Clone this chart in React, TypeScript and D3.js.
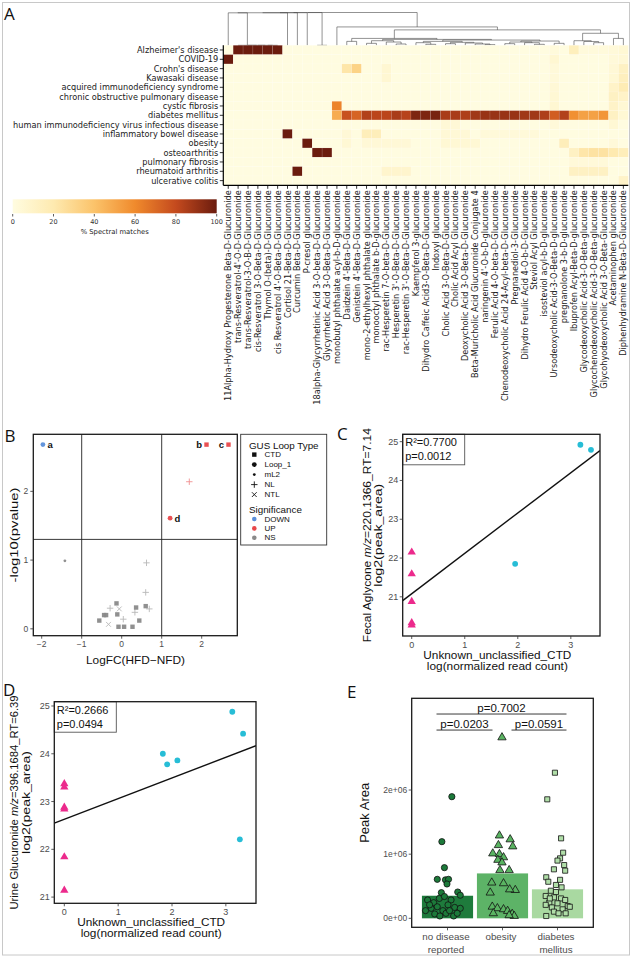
import React from "react";
import * as d3 from "d3";

const GG = "'Liberation Sans', Arial, sans-serif";
const DV = "'DejaVu Sans', sans-serif";
const TAG = "'Open Sans', sans-serif";

// ---------- A: spectral-match heatmap ----------
const diseases = [
  "Alzheimer's disease",
  "COVID-19",
  "Crohn's disease",
  "Kawasaki disease",
  "acquired immunodeficiency syndrome",
  "chronic obstructive pulmonary disease",
  "cystic fibrosis",
  "diabetes mellitus",
  "human immunodeficiency virus infectious disease",
  "inflammatory bowel disease",
  "obesity",
  "osteoarthritis",
  "pulmonary fibrosis",
  "rheumatoid arthritis",
  "ulcerative colitis",
];

const compounds = [
  "11Alpha-Hydroxy Progesterone Beta-D-Glucuronide",
  "trans-Resveratrol-4'-O-D-Glucuronide",
  "trans-Resveratrol-3-O-B-D-Glucuronide",
  "cis-Resveratrol 3-O-Beta-D-Glucuronide",
  "Thymol O-(beta)-D-Glucuronide",
  "cis Resveratrol 4'-O-Beta-D-Glucuronide",
  "Cortisol 21-Beta-D-Glucuronide",
  "Curcumin Beta-D-Glucuronide",
  "P-cresol glucuronide",
  "18alpha-Glycyrrhetinic Acid 3-O-beta-D-Glucuronide",
  "Glycyrrhetic Acid 3-O-Beta-D-Glucuronide",
  "monobutyl phthalate acyl-b-D-glucuronide",
  "Daidzein 4'-Beta-D-Glucuronide",
  "Genistein 4'-Beta-D-Glucuronide",
  "mono-2-ethylhexyl phthalate glucuronide",
  "monooctyl phthalate b-D-glucuronide",
  "rac-Hesperetin 7-O-beta-D-Glucuronide",
  "Hesperetin 3'-O-Beta-D-Glucuronide",
  "rac-Hesperetin 3'-O-Beta-D-Glucuronide",
  "Kaempferol 3-glucuronide",
  "Dihydro Caffeic Acid3-O-Beta-D-Glucuronide",
  "Indoxyl glucuronide",
  "Cholic Acid 3-O-Beta-D-Glucuronide",
  "Cholic Acid Acyl Glucuronide",
  "Deoxycholic Acid 3-O-Beta-D-Glucuronide",
  "Beta-Muricholic Acid Glucuronide Conjugate 4",
  "naringenin 4'-O-b-D-glucuronide",
  "Ferulic Acid 4-O-beta-D-Glucuronide",
  "Chenodeoxycholic Acid 24-Acyl-beta-D-Glucuronide",
  "Pregnanediol-3-Glucuronide",
  "Dihydro Ferulic Acid 4-O-b-D-Glucuronide",
  "Steviol Acyl Glucuronide",
  "isosteviol acyl-b-D-glucuronide",
  "Ursodeoxycholic Acid-3-O-Beta-D-glucuronide",
  "pregnanolone 3-b-D-glucuronide",
  "Ibuprofen Acyl-Beta-D-glucuronide",
  "Glycodeoxycholic Acid-3-O-Beta-glucuronide",
  "Glycochenodeoxycholic Acid-3-O-Beta-glucuronide",
  "Glycohyodeoxycholic Acid 3-O-Beta-Glucuronide",
  "Acetaminophen glucuronide",
  "Diphenhydramine N-Beta-D-Glucuronide",
];

// % spectral matches, one row per disease, one value per compound
const heatRows: number[][] = [
  [0, 100, 100, 100, 100, 100, 0, 0, 0, 0, 0, 0, 0, 0, 0, 0, 0, 0, 0, 0, 0, 0, 0, 0, 0, 0, 0, 0, 0, 0, 0, 0, 0, 2, 0, 15, 2, 2, 2, 3, 5],
  [100, 0, 0, 0, 0, 0, 0, 0, 0, 0, 0, 0, 0, 0, 0, 0, 0, 0, 0, 0, 0, 0, 0, 0, 0, 0, 0, 0, 0, 0, 0, 0, 0, 6, 0, 0, 0, 0, 0, 3, 4],
  [0, 0, 0, 0, 0, 0, 0, 0, 0, 0, 0, 0, 22, 32, 0, 0, 6, 0, 0, 0, 0, 0, 0, 0, 0, 0, 0, 0, 0, 0, 0, 0, 0, 3, 0, 0, 0, 0, 0, 4, 12],
  [0, 0, 0, 0, 0, 0, 0, 0, 0, 0, 0, 0, 0, 0, 0, 0, 6, 0, 0, 0, 0, 0, 0, 0, 0, 0, 0, 0, 0, 0, 0, 0, 0, 3, 0, 0, 0, 0, 0, 5, 14],
  [0, 0, 0, 0, 0, 0, 0, 0, 0, 0, 0, 0, 0, 0, 0, 0, 0, 0, 0, 0, 0, 0, 0, 0, 0, 0, 0, 0, 0, 0, 0, 0, 0, 4, 0, 0, 0, 0, 0, 10, 18],
  [0, 0, 0, 0, 0, 0, 0, 0, 0, 0, 0, 0, 0, 0, 0, 0, 0, 0, 0, 0, 0, 0, 0, 0, 0, 0, 0, 0, 0, 0, 0, 0, 0, 5, 0, 0, 0, 0, 0, 12, 10],
  [0, 0, 0, 0, 0, 0, 0, 0, 0, 0, 0, 62, 0, 0, 0, 0, 0, 0, 0, 0, 0, 0, 0, 0, 0, 0, 0, 0, 0, 0, 0, 0, 0, 6, 0, 0, 0, 0, 0, 10, 5],
  [0, 0, 0, 0, 0, 0, 0, 0, 0, 0, 0, 48, 78, 72, 84, 82, 82, 86, 83, 96, 96, 97, 86, 86, 85, 88, 90, 90, 90, 90, 88, 88, 85, 74, 84, 58, 52, 52, 56, 12, 5],
  [0, 0, 0, 0, 0, 0, 0, 0, 0, 0, 0, 0, 0, 0, 0, 0, 0, 0, 0, 0, 0, 0, 4, 4, 0, 0, 0, 0, 0, 0, 0, 0, 0, 3, 0, 0, 0, 0, 0, 5, 0],
  [0, 0, 0, 0, 0, 0, 100, 0, 0, 0, 0, 0, 4, 0, 16, 16, 0, 0, 0, 0, 0, 0, 4, 4, 4, 0, 3, 3, 3, 3, 3, 3, 0, 0, 0, 0, 0, 0, 0, 0, 0],
  [0, 0, 0, 0, 0, 0, 0, 0, 100, 0, 0, 0, 5, 0, 4, 4, 4, 4, 4, 0, 0, 0, 5, 5, 5, 5, 0, 0, 0, 0, 0, 0, 0, 0, 16, 0, 0, 0, 0, 3, 0],
  [0, 0, 0, 0, 0, 0, 0, 0, 0, 100, 100, 0, 0, 0, 0, 0, 0, 0, 0, 0, 0, 0, 0, 0, 0, 0, 0, 0, 0, 0, 0, 0, 0, 0, 0, 12, 22, 24, 24, 20, 16],
  [0, 0, 0, 0, 0, 0, 0, 0, 0, 0, 0, 0, 0, 0, 0, 0, 0, 0, 0, 0, 0, 0, 0, 0, 0, 0, 0, 0, 0, 0, 0, 0, 0, 0, 0, 3, 3, 3, 3, 0, 0],
  [0, 0, 0, 0, 0, 0, 0, 100, 0, 0, 0, 0, 0, 0, 0, 0, 8, 8, 8, 0, 0, 0, 0, 0, 0, 0, 0, 0, 0, 0, 0, 0, 0, 0, 0, 12, 12, 12, 12, 0, 0],
  [0, 0, 0, 0, 0, 0, 0, 0, 0, 0, 0, 0, 0, 0, 0, 0, 0, 0, 0, 0, 0, 0, 0, 0, 0, 0, 0, 0, 0, 0, 0, 0, 0, 0, 0, 0, 0, 0, 0, 0, 10],
];

const spectralStops = [0, 20, 40, 60, 80, 100];
const spectralColors = ["#FFFCE0", "#FEEAB0", "#FBC36A", "#F08A2C", "#C44A1E", "#6B1C0E"];
const spectralTicks = [0, 20, 40, 60, 80, 100];

// column dendrogram: leaves are compound indices, h = merge height (0..100)
type DNode = number | { h: number; l: DNode; r: DNode };
const n = (h: number, l: DNode, r: DNode): DNode => ({ h, l, r });
const compoundTree: DNode = n(
  100,
  n(99.8, n(99.6, n(99.4, n(99.2, n(99, 0, n(0, 1, n(0, 2, n(0, 3, n(0, 4, 5))))), 6), 7), 8), n(0, 9, 10)),
  n(
    56,
    11,
    n(
      47,
      n(
        21,
        n(12, 12, 13),
        n(
          18,
          n(14, n(6, 14, 15), n(10, 16, n(4, 17, 18))),
          n(
            16,
            n(12, n(8, 19, n(3, 20, 21)), n(9, n(5, 22, 23), n(7, 24, n(4, 25, n(2, 26, 27))))),
            n(13, n(10, n(5, 28, 29), n(8, 30, n(3, 31, 32))), n(6, 33, 34))
          )
        )
      ),
      n(36.6, n(14, 35, n(11.6, 36, n(8, 37, 38))), n(21, 39, 40))
    )
  )
);

// ---------- B: volcano ----------
const volcanoFC = [-1.97, 2.12, 2.67, 1.21, 1.69, -1.42, 0.62, 0.6, 0.69, -0.29, 0.33, 0.04, -0.06, -0.33, -0.56, -0.44, -0.39, -0.13, -0.11, -0.08, 0.06, 0.27, 0.36, 0.44, 0.6];
const volcanoP = [2.68, 2.68, 2.68, 1.61, 2.14, 0.99, 0.96, 0.53, 0.29, 0.3, 0.24, 0.14, 0.29, 0.065, 0.12, 0.2, 0.2, 0.37, 0.21, 0.03, 0.03, 0.03, 0.31, 0.12, 0.33];
const volcanoLoop = ["Loop_1", "CTD", "CTD", "Loop_1", "NL", "mL2", "NL", "NL", "NL", "NL", "NL", "NL", "NTL", "NTL", "CTD", "CTD", "CTD", "CTD", "CTD", "CTD", "CTD", "CTD", "CTD", "CTD", "CTD"];
const volcanoSig = ["DOWN", "UP", "UP", "UP", "UP", "NS", "NS", "NS", "NS", "NS", "NS", "NS", "NS", "NS", "NS", "NS", "NS", "NS", "NS", "NS", "NS", "NS", "NS", "NS", "NS"];
const volcanoTags = ["a", "b", "c", "d"];
const loopTypes = ["CTD", "Loop_1", "mL2", "NL", "NTL"];
const sigLevels = ["DOWN", "UP", "NS"];
const sigColors = ["#5B8FDA", "#E8474A", "#8A8A8A"];
const bTicksX = [-2, -1, 0, 1, 2];
const bTicksY = [0, 1, 2];
const fcCut = [-1, 1];
const pCut = 1.301;

// ---------- C / D: regressions ----------
const cCircX = [1.95, 3.18, 3.38];
const cCircY = [21.85, 24.92, 24.79];
const cTriX = [0, 0, 0, 0, 0];
const cTriY = [22.15, 21.59, 20.88, 20.33, 20.27];
const cFit = [21.08, 1.04];
const dCircX = [1.83, 1.91, 2.1, 3.12, 3.26, 3.32];
const dCircY = [24.0, 23.78, 23.86, 24.88, 22.21, 24.42];
const dTriX = [0, 0, 0, 0, 0, 0];
const dTriY = [23.37, 23.3, 22.88, 22.84, 21.84, 21.14];
const dFit = [22.63, 0.432];
const regTicksX = [0, 1, 2, 3];
const regTicksY = [21, 22, 23, 24, 25];

// ---------- E: peak area ----------
const eGroups = ["no disease reported", "obesity", "diabetes mellitus"];
const eGroupLines = [["no disease", "reported"], ["obesity"], ["diabetes", "mellitus"]];
const eBarMeans = [0.352e6, 0.7e6, 0.452e6];
const eNoneVals = [1.896, 1.195, 0.79, 0.608, 0.6, 0.608, 0.535, 0.4, 0.41, 0.36, 0.286, 0.244, 0.31, 0.34, 0.286, 0.156, 0.18, 0.12, 0.21, 0.17, 0.156, 0.12, 0.068, 0.036, 0.078, 0.036, 0.078, 0.12, 0.21];
const eNoneJit = [0.085, -0.11, -0.06, -0.2, -0.04, 0.02, -0.01, -0.12, 0.2, 0.25, -0.39, -0.27, -0.16, -0.06, 0.07, -0.32, -0.2, -0.09, 0.01, 0.14, 0.25, -0.43, -0.25, -0.15, -0.03, 0.12, 0.19, 0.04, -0.35];
const eObeseVals = [2.82, 1.29, 1.23, 1.12, 1.14, 1.01, 1.0, 0.95, 0.91, 0.87, 0.75, 0.75, 0.556, 0.545, 0.44, 0.45, 0.4, 0.18, 0.156, 0.14, 0.114, 0.068, 0.078, 0.036, 0.047];
const eObeseJit = [-0.01, -0.06, 0.15, 0.2, -0.08, -0.19, -0.06, 0.02, -0.09, -0.01, -0.05, 0.13, -0.21, 0.02, 0.25, 0.14, -0.24, -0.2, -0.1, 0.02, 0.1, 0.19, -0.18, 0.23, 0.13];
const eDiabVals = [2.27, 1.855, 1.247, 1.023, 0.935, 0.9, 0.83, 0.764, 0.743, 0.64, 0.6, 0.57, 0.483, 0.43, 0.41, 0.348, 0.327, 0.31, 0.286, 0.244, 0.234, 0.21, 0.19, 0.17, 0.14, 0.104, 0.078, 0.036, 0.078, 0.18, 0.31, 0.52];
const eDiabJit = [-0.05, -0.2, 0.07, 0.11, 0.05, 0, 0.13, -0.07, 0.15, -0.22, 0.05, -0.18, 0.08, -0.13, -0.03, -0.23, -0.07, 0.07, 0.15, -0.16, 0, -0.23, 0.2, -0.11, 0.1, -0.07, 0.02, -0.22, 0.16, 0.24, -0.15, -0.03];
const eTicks = [0, 1e6, 2e6];
const eTickLabels = ["0e+00", "1e+06", "2e+06"];
const ePairs = [[0, 2], [0, 1], [1, 2]];
const ePLabels = ["p=0.7002", "p=0.0203", "p=0.0591"];
const eBracketY = [3.185e6, 2.935e6, 2.935e6];
const eBarColors = ["#1E7B3C", "#5DB367", "#A9D9A1"];
const ePointColors = ["#1C7A3A", "#5AB462", "#B0DEA8"];

const AXIS_TXT = "#4D4D4D";

function Heatmap() {
  const x = d3.scaleBand<number>().domain(d3.range(compounds.length)).range([223.3, 628.3]);
  const y = d3.scaleBand<string>().domain(diseases).range([45.3, 185.3]);
  const color = d3.scaleLinear<string>().domain(spectralStops).range(spectralColors).clamp(true);
  const yD = d3.scaleLinear().domain([0, 100]).range([45.3, 12.5]);
  const bw = x.bandwidth();

  const segs: number[][] = [];
  const layout = (node: DNode): { x: number; h: number } => {
    if (typeof node === "number") return { x: (x(node) ?? 0) + bw / 2, h: 0 };
    const a = layout(node.l);
    const b = layout(node.r);
    const yy = yD(node.h);
    segs.push([a.x, yy, b.x, yy]);
    segs.push([a.x, yD(a.h), a.x, yy]);
    segs.push([b.x, yD(b.h), b.x, yy]);
    return { x: (a.x + b.x) / 2, h: node.h };
  };
  layout(compoundTree);

  const cb = d3.scaleLinear().domain([0, 100]).range([12.7, 216.7]);
  const [x0, x1] = x.range();
  const [y0, y1] = y.range();

  return (
    <g>
      <defs>
        <linearGradient id="spectral" x1="0" x2="1" y1="0" y2="0">
          {spectralStops.map((s, i) => (
            <stop key={i} offset={`${s}%`} stopColor={spectralColors[i]} />
          ))}
        </linearGradient>
      </defs>
      {segs.map((s, i) => (
        <line key={i} x1={s[0]} y1={s[1]} x2={s[2]} y2={s[3]} stroke="#4a4a4a" strokeWidth={0.6} />
      ))}
      {heatRows.map((row, r) =>
        row.map((v, c) => (
          <rect
            key={`${r}-${c}`}
            x={x(c)}
            y={y(diseases[r])}
            width={bw}
            height={y.bandwidth()}
            fill={color(v)}
            stroke="#ffffff"
            strokeOpacity={0.25}
            strokeWidth={0.4}
          />
        ))
      )}
      <line x1={x0} x2={x0} y1={y0} y2={y1} stroke="#000" strokeWidth={1.2} />
      <line x1={x0} x2={x1} y1={y1} y2={y1} stroke="#000" strokeWidth={1.2} />
      {diseases.map((d) => {
        const cy = (y(d) ?? 0) + y.bandwidth() / 2;
        return (
          <g key={d}>
            <line x1={x0 - 3.5} x2={x0} y1={cy} y2={cy} stroke="#000" strokeWidth={0.8} />
            <text x={x0 - 5} y={cy} textAnchor="end" dominantBaseline="central" fontFamily={DV} fontSize={8.2} fill="#222">
              {d}
            </text>
          </g>
        );
      })}
      {compounds.map((c, i) => {
        const cx = (x(i) ?? 0) + bw / 2;
        return (
          <g key={c}>
            <line x1={cx} x2={cx} y1={y1} y2={y1 + 3.5} stroke="#000" strokeWidth={0.8} />
            <text
              x={cx}
              y={y1 + 5}
              transform={`rotate(-90, ${cx}, ${y1 + 5})`}
              textAnchor="end"
              dominantBaseline="central"
              fontFamily={DV}
              fontSize={8.2}
              fill="#222"
            >
              {c}
            </text>
          </g>
        );
      })}
      {/* colour bar */}
      <rect x={cb(0)} y={199.3} width={cb(100) - cb(0)} height={14} fill="url(#spectral)" />
      {spectralTicks.map((t) => (
        <g key={t}>
          <line x1={cb(t)} x2={cb(t)} y1={214} y2={216.5} stroke="#333" strokeWidth={0.8} />
          <text x={cb(t)} y={224} textAnchor="middle" fontFamily={DV} fontSize={6.5} fill="#333">
            {t}
          </text>
        </g>
      ))}
      <text x={cb(50)} y={233.5} textAnchor="middle" fontFamily={DV} fontSize={6.8} fill="#222">
        % Spectral matches
      </text>
    </g>
  );
}

function Glyph({ type, x, y, color, op = 1 }: { type: string; x: number; y: number; color: string; op?: number }) {
  if (type === "CTD") return <rect x={x - 2.2} y={y - 2.2} width={4.4} height={4.4} fill={color} opacity={op} />;
  if (type === "Loop_1") return <circle cx={x} cy={y} r={2.4} fill={color} opacity={op} />;
  if (type === "mL2") return <circle cx={x} cy={y} r={1.4} fill={color} opacity={op} />;
  if (type === "NL")
    return <path d={`M${x - 3.2},${y}H${x + 3.2}M${x},${y - 3.2}V${y + 3.2}`} stroke={color} strokeWidth={0.9} opacity={op} />;
  return (
    <path
      d={`M${x - 2.4},${y - 2.4}L${x + 2.4},${y + 2.4}M${x - 2.4},${y + 2.4}L${x + 2.4},${y - 2.4}`}
      stroke={color}
      strokeWidth={0.9}
      opacity={op}
    />
  );
}

function Volcano() {
  const L = 33.3, R = 237.3, T = 434.3, B = 635.7;
  const x = d3.scaleLinear().domain([-2.21, 2.89]).range([L, R]);
  const y = d3.scaleLinear().domain([-0.1, 2.83]).range([B, T]);
  const col = (s: string) => sigColors[sigLevels.indexOf(s)];
  return (
    <g>
      <rect x={L} y={T} width={R - L} height={B - T} fill="#fff" />
      {fcCut.map((f) => (
        <line key={f} x1={x(f)} x2={x(f)} y1={T} y2={B} stroke="#222" strokeWidth={0.9} />
      ))}
      <line x1={L} x2={R} y1={y(pCut)} y2={y(pCut)} stroke="#222" strokeWidth={0.9} />
      {volcanoFC.map((f, i) => (
        <Glyph
          key={i}
          type={volcanoLoop[i]}
          x={x(f)}
          y={y(volcanoP[i])}
          color={col(volcanoSig[i])}
          op={volcanoLoop[i] === "NL" || volcanoLoop[i] === "NTL" ? 0.6 : 0.95}
        />
      ))}
      {volcanoTags.map((t, i) => {
        const right = volcanoFC[i] < 0 || t === "d";
        return (
          <text
            key={t}
            x={x(volcanoFC[i]) + (right ? 4.5 : -4.5)}
            y={y(volcanoP[i])}
            textAnchor={right ? "start" : "end"}
            dominantBaseline="central"
            fontFamily={GG}
            fontWeight="bold"
            fontSize={9.5}
            fill="#111"
          >
            {t}
          </text>
        );
      })}
      <rect x={L} y={T} width={R - L} height={B - T} fill="none" stroke="#1a1a1a" strokeWidth={1.3} />
      {bTicksX.map((t) => (
        <g key={t}>
          <line x1={x(t)} x2={x(t)} y1={B} y2={B + 3} stroke="#333" strokeWidth={0.8} />
          <text x={x(t)} y={B + 11.5} textAnchor="middle" fontFamily={GG} fontSize={8.5} fill={AXIS_TXT}>
            {t < 0 ? `\u2212${-t}` : t}
          </text>
        </g>
      ))}
      {bTicksY.map((t) => (
        <g key={t}>
          <line x1={L - 3} x2={L} y1={y(t)} y2={y(t)} stroke="#333" strokeWidth={0.8} />
          <text x={L - 5} y={y(t)} textAnchor="end" dominantBaseline="central" fontFamily={GG} fontSize={8.5} fill={AXIS_TXT}>
            {t}
          </text>
        </g>
      ))}
      <text
        x={14}
        y={(T + B) / 2}
        transform={`rotate(-90, 14, ${(T + B) / 2})`}
        textAnchor="middle"
        dominantBaseline="central"
        fontFamily={GG}
        fontSize={11.5}
        textLength={95}
        lengthAdjust="spacingAndGlyphs"
        fill="#111"
      >
        -log10(pvalue)
      </text>
      <text x={135.5} y={664} textAnchor="middle" fontFamily={GG} fontSize={11} textLength={99} lengthAdjust="spacingAndGlyphs" fill="#111">
        LogFC(HFD−NFD)
      </text>
      {/* legend */}
      <rect x={240.7} y={434.3} width={86} height={110.7} fill="#fff" stroke="#333" strokeWidth={0.9} />
      <text x={249} y={449} fontFamily={GG} fontSize={9.8} fill="#111">
        GUS Loop Type
      </text>
      {loopTypes.map((t, i) => (
        <g key={t}>
          <Glyph type={t} x={254.3} y={454.6 + i * 10} color="#111" />
          <text x={264.5} y={454.6 + i * 10} dominantBaseline="central" fontFamily={GG} fontSize={8} fill="#111">
            {t}
          </text>
        </g>
      ))}
      <text x={249} y={512.5} fontFamily={GG} fontSize={9.8} fill="#111">
        Significance
      </text>
      {sigLevels.map((s, i) => (
        <g key={s}>
          <circle cx={254.3} cy={519 + i * 9.4} r={2.3} fill={sigColors[i]} />
          <text x={264.5} y={519 + i * 9.4} dominantBaseline="central" fontFamily={GG} fontSize={8} fill="#111">
            {s}
          </text>
        </g>
      ))}
    </g>
  );
}

function RegressionPanel(props: {
  L: number;
  R: number;
  T: number;
  B: number;
  xDomain: number[];
  yDomain: number[];
  circX: number[];
  circY: number[];
  triX: number[];
  triY: number[];
  fit: number[];
  r2: string;
  p: string;
  titleHead: string;
  titleTail: string;
  yTitleX: number;
}) {
  const { L, R, T, B } = props;
  const x = d3.scaleLinear().domain(props.xDomain).range([L, R]);
  const y = d3.scaleLinear().domain(props.yDomain).range([B, T]);
  const tri = d3.symbol(d3.symbolTriangle, 30)() ?? "";
  const [x0, x1] = props.xDomain;
  const line = d3.line<number>().x((v) => x(v)).y((v) => y(props.fit[0] + props.fit[1] * v))([x0, x1]) ?? "";
  const cy = (T + B) / 2;
  const cx = (L + R) / 2 - 4;
  const clipId = `clip-${Math.round(L)}`;
  return (
    <g>
      <defs>
        <clipPath id={clipId}>
          <rect x={L} y={T} width={R - L} height={B - T} />
        </clipPath>
      </defs>
      <g clipPath={`url(#${clipId})`}>
        {props.triX.map((v, i) => (
          <path key={`t${i}`} d={tri} transform={`translate(${x(v)},${y(props.triY[i])})`} fill="#EC2A8C" />
        ))}
        {props.circX.map((v, i) => (
          <circle key={`c${i}`} cx={x(v)} cy={y(props.circY[i])} r={2.9} fill="#27BDD6" />
        ))}
        <path d={line} fill="none" stroke="#111" strokeWidth={1.4} />
      </g>
      <rect x={L} y={T} width={62} height={30.5} fill="#fff" stroke="#555" strokeWidth={0.9} />
      <text x={L + 2.5} y={T + 12} fontFamily={GG} fontSize={11} fill="#111">
        {props.r2}
      </text>
      <text x={L + 2.5} y={T + 26} fontFamily={GG} fontSize={11} fill="#111">
        {props.p}
      </text>
      <rect x={L} y={T} width={R - L} height={B - T} fill="none" stroke="#1a1a1a" strokeWidth={1.3} />
      {regTicksX.map((t) => (
        <g key={t}>
          <line x1={x(t)} x2={x(t)} y1={B} y2={B + 3} stroke="#333" strokeWidth={0.8} />
          <text x={x(t)} y={B + 12} textAnchor="middle" fontFamily={GG} fontSize={9} fill={AXIS_TXT}>
            {t}
          </text>
        </g>
      ))}
      {regTicksY.map((t) => (
        <g key={t}>
          <line x1={L - 3} x2={L} y1={y(t)} y2={y(t)} stroke="#333" strokeWidth={0.8} />
          <text x={L - 4.5} y={y(t)} textAnchor="end" dominantBaseline="central" fontFamily={GG} fontSize={9} fill={AXIS_TXT}>
            {t}
          </text>
        </g>
      ))}
      <text
        x={props.yTitleX}
        y={cy}
        transform={`rotate(-90, ${props.yTitleX}, ${cy})`}
        textAnchor="middle"
        dominantBaseline="central"
        fontFamily={GG}
        fontSize={11.5}
        textLength={214}
        lengthAdjust="spacingAndGlyphs"
        fill="#111"
      >
        {props.titleHead}
        <tspan fontStyle="italic">m/z</tspan>
        {props.titleTail}
      </text>
      <text
        x={props.yTitleX + 11.6}
        y={cy}
        transform={`rotate(-90, ${props.yTitleX + 11.6}, ${cy})`}
        textAnchor="middle"
        dominantBaseline="central"
        fontFamily={GG}
        fontSize={11.5}
        textLength={103}
        lengthAdjust="spacingAndGlyphs"
        fill="#111"
      >
        log2(peak_area)
      </text>
      <text x={cx} y={B + 23} textAnchor="middle" fontFamily={GG} fontSize={11.5} textLength={148} lengthAdjust="spacingAndGlyphs" fill="#111">
        Unknown_unclassified_CTD
      </text>
      <text x={cx} y={B + 34} textAnchor="middle" fontFamily={GG} fontSize={11.5} textLength={141} lengthAdjust="spacingAndGlyphs" fill="#111">
        log(normalized read count)
      </text>
    </g>
  );
}

function PeakAreaBars() {
  const L = 411.7, R = 593.3, T = 698.3, B = 927.3;
  const x = d3.scaleBand<string>().domain(eGroups).range([L, R]).paddingInner(0.07).paddingOuter(0.186);
  const y = d3.scaleLinear().domain([-0.14e6, 3.43e6]).range([B, T]);
  const bw = x.bandwidth();
  const center = (i: number) => (x(eGroups[i]) ?? 0) + bw / 2;
  const tri = d3.symbol(d3.symbolTriangle, 30)() ?? "";
  const sq = d3.symbol(d3.symbolSquare, 26)() ?? "";
  const pts = [
    { vals: eNoneVals, jit: eNoneJit },
    { vals: eObeseVals, jit: eObeseJit },
    { vals: eDiabVals, jit: eDiabJit },
  ];
  return (
    <g>
      {eBarMeans.map((m, i) => (
        <rect key={i} x={x(eGroups[i])} y={y(m)} width={bw} height={y(0) - y(m)} fill={eBarColors[i]} />
      ))}
      {pts.map((g, gi) =>
        g.vals.map((v, i) => {
          const px = center(gi) + g.jit[i] * bw;
          const py = y(v * 1e6);
          if (gi === 0)
            return <circle key={`${gi}-${i}`} cx={px} cy={py} r={3.1} fill={ePointColors[0]} stroke="#111" strokeWidth={0.8} />;
          return (
            <path
              key={`${gi}-${i}`}
              d={gi === 1 ? tri : sq}
              transform={`translate(${px},${py})`}
              fill={ePointColors[gi]}
              stroke="#111"
              strokeWidth={0.8}
            />
          );
        })
      )}
      {ePairs.map(([a, b], i) => {
        const xa = center(a) + (a === 1 ? 9 : -11);
        const xb = center(b) + (b === 1 ? -10 : 9);
        const yy = y(eBracketY[i]);
        return (
          <g key={i}>
            <line x1={xa} x2={xb} y1={yy} y2={yy} stroke="#222" strokeWidth={0.9} />
            <text x={(xa + xb) / 2} y={yy - 2} textAnchor="middle" fontFamily={GG} fontSize={11.5} fill="#111">
              {ePLabels[i]}
            </text>
          </g>
        );
      })}
      <rect x={L} y={T} width={R - L} height={B - T} fill="none" stroke="#1a1a1a" strokeWidth={1.3} />
      {eTicks.map((t, i) => (
        <g key={t}>
          <line x1={L - 3} x2={L} y1={y(t)} y2={y(t)} stroke="#333" strokeWidth={0.8} />
          <text x={L - 4.5} y={y(t)} textAnchor="end" dominantBaseline="central" fontFamily={GG} fontSize={8.5} fill={AXIS_TXT}>
            {eTickLabels[i]}
          </text>
        </g>
      ))}
      {eGroupLines.map((lines, i) => (
        <g key={i}>
          <line x1={center(i)} x2={center(i)} y1={B} y2={B + 3} stroke="#333" strokeWidth={0.8} />
          {lines.map((s, k) => (
            <text key={k} x={center(i) - 1.5} y={939.5 + k * 13.3} textAnchor="middle" fontFamily={GG} fontSize={9.8} fill={AXIS_TXT}>
              {s}
            </text>
          ))}
        </g>
      ))}
      <text
        x={365}
        y={(T + B) / 2}
        transform={`rotate(-90, 365, ${(T + B) / 2})`}
        textAnchor="middle"
        dominantBaseline="central"
        fontFamily={GG}
        fontSize={13}
        fill="#111"
      >
        Peak Area
      </text>
    </g>
  );
}

export default function App() {
  return (
    <div style={{ position: "absolute", left: 0, top: 0 }}>
      <style>{"body{margin:0;background:#fff}"}</style>
      <svg width={632} height={959} viewBox="0 0 632 959" style={{ display: "block" }}>
        <rect x={0} y={0} width={632} height={959} fill="#fff" />
        <rect x={2.5} y={2.5} width={627} height={952.5} fill="none" stroke="#C8C8C8" strokeWidth={1} />
        <Heatmap />
        <Volcano />
        <RegressionPanel
          L={402.7}
          R={600}
          T={434.3}
          B={636}
          xDomain={[-0.17, 3.55]}
          yDomain={[19.99, 25.19]}
          circX={cCircX}
          circY={cCircY}
          triX={cTriX}
          triY={cTriY}
          fit={cFit}
          r2="R²=0.7700"
          p="p=0.0012"
          titleHead="Fecal Aglycone "
          titleTail="=220.1366_RT=7.14"
          yTitleX={366.7}
        />
        <RegressionPanel
          L={54.3}
          R={256}
          T={701.7}
          B={903.3}
          xDomain={[-0.186, 3.56]}
          yDomain={[20.87, 25.09]}
          circX={dCircX}
          circY={dCircY}
          triX={dTriX}
          triY={dTriY}
          fit={dFit}
          r2="R²=0.2666"
          p="p=0.0494"
          titleHead="Urine Glucuronide "
          titleTail="=396.1684_RT=6.39"
          yTitleX={14}
        />
        <PeakAreaBars />
        <g fontFamily={TAG} fontSize={17} fill="#111">
          <text x={4} y={20}>A</text>
          <text x={4.5} y={442}>B</text>
          <text x={337} y={440}>C</text>
          <text x={3} y={696}>D</text>
          <text x={347} y={698}>E</text>
        </g>
      </svg>
    </div>
  );
}
